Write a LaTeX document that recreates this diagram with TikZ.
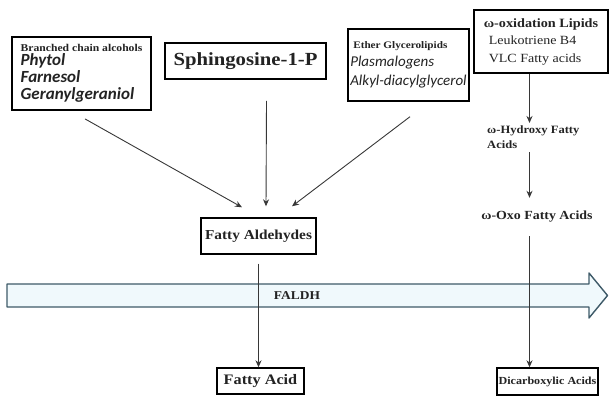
\documentclass[tikz,border=0pt]{standalone}
\usepackage{fontspec}
\setmainfont[FakeStretch=1.12]{Liberation Serif}
\newfontfamily\calfont{Carlito}
\usetikzlibrary{arrows.meta,calc}
\definecolor{ink}{RGB}{35,35,35}
\definecolor{linec}{RGB}{55,55,55}
\definecolor{bandedge}{RGB}{62,90,104}
\definecolor{bandfill}{RGB}{240,249,252}
\begin{document}
\begin{tikzpicture}[x=1pt,y=-1pt,
  box/.style={draw=black,line width=1.8pt,inner sep=0pt,fill=white,text=ink},
  thinbox/.style={box,line width=1.4pt},
  arr/.style={draw=linec,line width=0.9pt,-{Stealth[length=7pt,width=6pt]}},
  ln/.style={draw=linec,line width=0.9pt},
  lbl/.style={text=ink,inner sep=0pt}
]
\useasboundingbox (0,0) rectangle (609,396);

% FALDH band
\path[draw=bandedge,fill=bandfill,line width=1.4pt,line join=round]
  (7,284) -- (589,284) -- (589,273) -- (607.5,295.5) -- (589,318) -- (589,307) -- (7,307) -- cycle;
\node[lbl,font=\bfseries\fontsize{12}{14}\selectfont] (faldh) at (297,296) {FALDH};

% top boxes
\node[box,minimum width=139pt,minimum height=73pt,align=left,
  font=\calfont\bfseries\itshape\fontsize{17}{17}\selectfont] (bca) at (81.5,73.5)
  {{\normalfont\rmfamily\bfseries\fontsize{10.4}{12}\selectfont Branched chain alcohols}\\[-3pt]
   Phytol\\Farnesol\\Geranylgeraniol};

\node[box,minimum width=161pt,minimum height=36pt,
  font=\bfseries\fontsize{18.5}{20}\selectfont] (sph) at (245.5,61) {Sphingosine-1-P};

\node[thinbox,minimum width=121pt,minimum height=72pt,align=left,
  font=\calfont\itshape\fontsize{15}{19}\selectfont] (eth) at (408.5,65)
  {{\normalfont\rmfamily\bfseries\fontsize{10}{12}\selectfont\hspace{3pt}Ether Glycerolipids}\\[-1pt]
   Plasmalogens\\Alkyl-diacylglycerol};

\node[box,minimum width=134pt,minimum height=63pt,align=left,
  font=\fontsize{12.5}{17.5}\selectfont] (omg) at (541,41.5)
  {{\bfseries\fontsize{12.7}{17.5}\selectfont ω-oxidation Lipids}\\
   \hspace{5pt}Leukotriene B4\\
   \hspace{5pt}VLC Fatty acids};

% omega pathway
\coordinate (vx) at (529.5,0);
\node[lbl,anchor=north west,align=left,inner ysep=3pt,
  font=\bfseries\fontsize{11.2}{15}\selectfont] (hyd) at (487,123)
  {ω-Hydroxy Fatty\\Acids};
\node[lbl,minimum height=38pt,
  font=\bfseries\fontsize{12.4}{14}\selectfont] (oxo) at (537,217) {ω-Oxo Fatty Acids};

% middle
\node[thinbox,minimum width=115pt,minimum height=36pt,
  font=\bfseries\fontsize{13.7}{16}\selectfont] (fald) at (258.5,236) {Fatty Aldehydes};

% bottom
\node[thinbox,minimum width=87pt,minimum height=26pt,
  font=\bfseries\fontsize{14.5}{16}\selectfont] (facid) at (260.5,381) {Fatty Acid};
\node[thinbox,minimum width=101pt,minimum height=27pt,
  font=\bfseries\fontsize{10.8}{13}\selectfont] (dca) at (547.5,381.5) {Dicarboxylic Acids};

% connectors into fatty aldehydes
\draw[arr] ($(bca.south)+(3.5,8)$) -- ($(fald.north)+(-16.5,-10)$);
\draw[arr] ($(sph.south)+(21,21)$) -- ($(fald.north)+(7.5,-11)$);
\draw[arr] ($(eth.south)+(1.5,15)$) -- ($(fald.north)+(33.5,-11)$);

% fatty aldehydes to fatty acid
\draw[arr] ($(fald.south)+(0,9)$) -- (fald.south |- facid.north);

% omega pathway arrows
\draw[arr] (vx |- omg.south) -- (vx |- hyd.north);
\draw[arr] (vx |- hyd.south) -- (vx |- oxo.north);
\draw[arr] (vx |- oxo.south) -- (vx |- dca.north);
\end{tikzpicture}
\end{document}
